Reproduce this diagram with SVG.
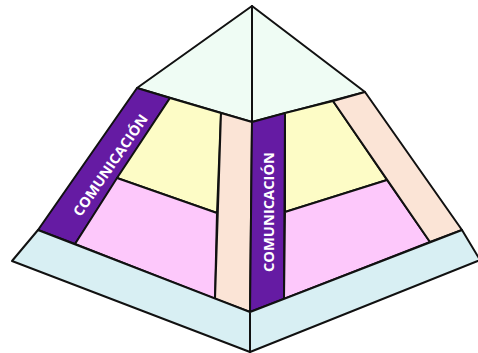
<svg xmlns="http://www.w3.org/2000/svg" width="478" height="353" viewBox="0 0 478 353">
  <style>
    .ln { stroke: #111; stroke-width: 2; stroke-linejoin: round; }
    .mint { fill: #effcf4; }
    .yel { fill: #fdfcc6; }
    .pink { fill: #fdc8fb; }
    .peach { fill: #fbe4d6; }
    .purp { fill: #651ba3; }
    .base { fill: #d8eff3; }
    .lbl { font-family: "Open Sans", "DejaVu Sans", sans-serif; font-weight: bold; font-size: 14px; fill: #ffffff; text-anchor: middle; dominant-baseline: central; }
  </style>
  <rect width="478" height="353" fill="#ffffff"/>
  <g id="top-left"><polygon class="mint ln" points="252,6 137,88 252,122"/></g>
  <g id="top-right"><polygon class="mint ln" points="252,6 365,92 252,122"/></g>
  <g id="left-purple">
    <polygon class="purp ln" points="137,88 170,98 75,244 38,230"/>
    <text class="lbl" transform="translate(110,165) rotate(-55.5)" textLength="120" lengthAdjust="spacingAndGlyphs">COMUNICACIÓN</text>
  </g>
  <g id="left-yellow"><polygon class="yel ln" points="170,98 221,113 217,213 117,178"/></g>
  <g id="left-pink"><polygon class="pink ln" points="117,178 217,213 215,299 75,244"/></g>
  <g id="left-peach"><polygon class="peach ln" points="221,113 252,122 250,312 215,299"/></g>
  <g id="right-purple">
    <polygon class="purp ln" points="252,122 285,113 284,299 250,312"/>
    <text class="lbl" transform="translate(268,212) rotate(-90)" textLength="120" lengthAdjust="spacingAndGlyphs">COMUNICACIÓN</text>
  </g>
  <g id="right-yellow"><polygon class="yel ln" points="285,113 333,101 387,180 285,212"/></g>
  <g id="right-pink"><polygon class="pink ln" points="285,212 387,180 430,242 284,299"/></g>
  <g id="right-peach"><polygon class="peach ln" points="333,101 365,92 462,230 430,242"/></g>
  <g id="base-left"><polygon class="base ln" points="38,230 250,312 250,352 12,261"/></g>
  <g id="base-right"><polygon class="base ln" points="250,312 462,230 480,260 250,352"/></g>
  <g id="connectors"></g>
</svg>
